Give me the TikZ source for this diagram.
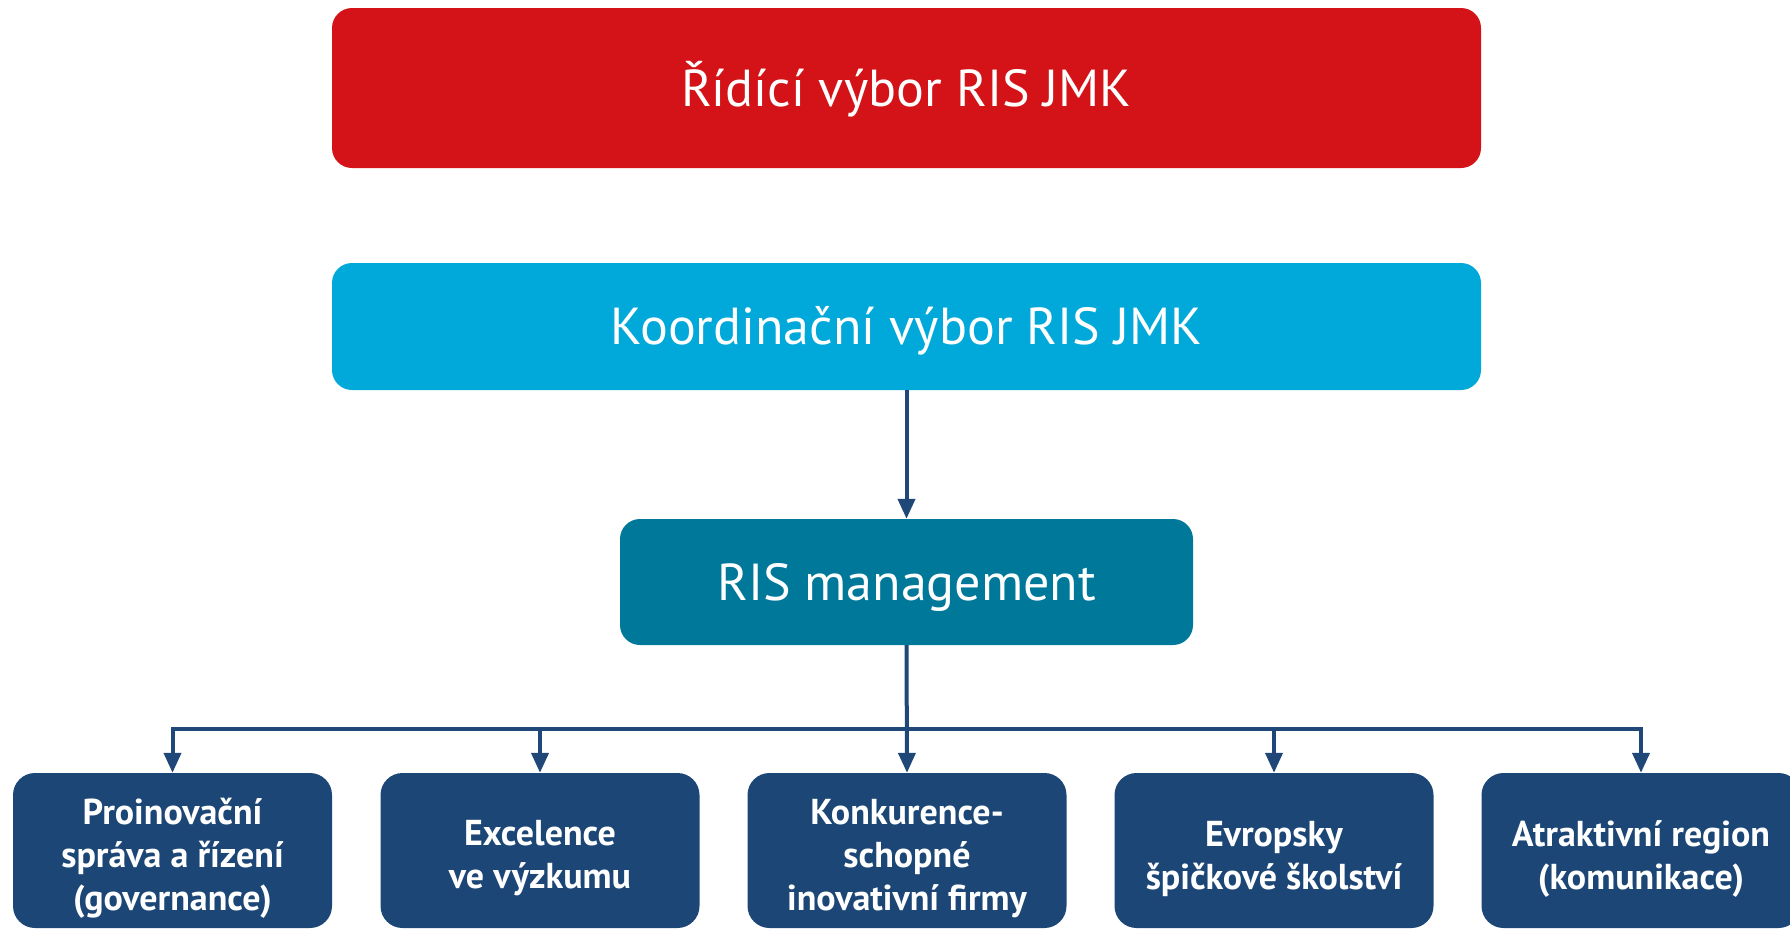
\documentclass[tikz,border=0pt]{standalone}
\usepackage{fontspec}
\setmainfont{PT Sans}
\usetikzlibrary{arrows.meta}
\definecolor{cred}{HTML}{D31317}
\definecolor{ccyan}{HTML}{00A9D9}
\definecolor{cteal}{HTML}{00789A}
\definecolor{cnavy}{HTML}{1C4675}
\definecolor{cline}{HTML}{1F4878}
\begin{document}
\begin{tikzpicture}[x=1pt,y=-1pt,
 topbox/.style={rounded corners=20pt, inner sep=0pt, text=white, align=center, minimum width=1149pt, text height=36pt, text depth=0pt, font=\fontsize{52}{60}\selectfont},
 subbox/.style={fill=cnavy, rounded corners=22pt, minimum width=319pt, minimum height=155pt, inner sep=0pt},
 subtext/.style={text=white, align=center, inner sep=0pt, font=\fontsize{36}{43}\selectfont\bfseries},
 linkline/.style={draw=cline, line width=4pt},
 conn/.style={linkline, -{Triangle[length=20pt,width=17pt]}}
]
\useasboundingbox (0,0) rectangle (1790,929);
\node[topbox, fill=cred, minimum height=160pt] (steer) at (906.5,88) {Řídící výbor RIS JMK};
\node[topbox, fill=ccyan, minimum height=127pt] (coord) at (906.5,326.5) {Koordinační výbor RIS JMK};
\node[topbox, fill=cteal, minimum width=573pt, minimum height=126pt] (ris) at (906.5,582) {RIS management};
\node[subbox] (b1) at (172.5,850.5) {};
\node[subbox] (b2) at (540,850.5) {};
\node[subbox] (b3) at (907,850.5) {};
\node[subbox] (b4) at (1274,850.5) {};
\node[subbox] (b5) at (1641,850.5) {};
\node[subtext] (t1) at ([yshift=-8pt]b1.center) {Proinovační\\správa a řízení\\(governance)};
\node[subtext] (t2) at ([yshift=-8pt]b2.center) {Excelence\\ve výzkumu};
\node[subtext] (t3) at ([yshift=-8pt]b3.center) {Konkurence-\\schopné\\inovativní firmy};
\node[subtext] (t4) at ([yshift=-8pt]b4.center) {Evropsky\\špičkové školství};
\node[subtext] (t5) at ([yshift=-8pt]b5.center) {Atraktivní region\\(komunikace)};
\coordinate (hl) at (906.5,729);
\draw[conn] (coord.south) -- (ris.north);
\draw[conn] (ris.south) -- (b3.north);
\draw[linkline, {Triangle[length=20pt,width=17pt]}-{Triangle[length=20pt,width=17pt]}] (b1.north) -- (b1.north |- hl) -- (b5.north |- hl) -- (b5.north);
\draw[conn] (b2.north |- hl) -- (b2.north);
\draw[conn] (b4.north |- hl) -- (b4.north);
\end{tikzpicture}
\end{document}
